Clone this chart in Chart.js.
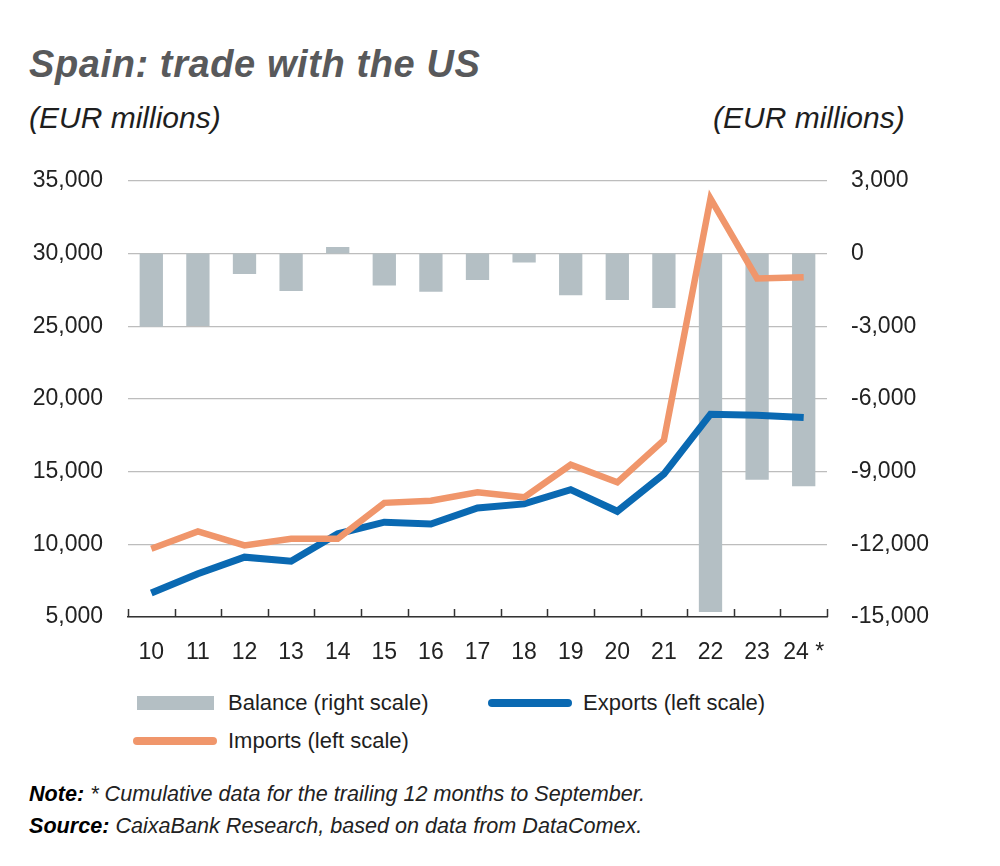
<!DOCTYPE html>
<html>
<head>
<meta charset="utf-8">
<script src="https://cdn.jsdelivr.net/npm/chart.js@4.4.1/dist/chart.umd.min.js"></script>
<style>
  html, body { margin: 0; padding: 0; background: #fff; }
  body { width: 1000px; height: 866px; position: relative; overflow: hidden;
         font-family: 'Liberation Sans', Arial, sans-serif; color: #222; }
  #title { position: absolute; left: 29px; top: 43px; font-size: 38px; font-weight: bold;
           font-style: italic; color: #58595b; letter-spacing: 0.6px; white-space: nowrap; }
  .unit { position: absolute; top: 101px; font-size: 30px; font-style: italic; color: #1e1e1e; white-space: nowrap; }
  #unitL { left: 29px; }
  #unitR { left: 713px; }
  #chartBox { position: absolute; left: 0; top: 142px; width: 1000px; height: 538px; }
  #legend { position: absolute; left: 133px; top: 684px; display: grid;
            grid-template-columns: 355px 300px; grid-auto-rows: 38px; font-size: 22px; color: #1e1e1e; }
  .item { display: flex; align-items: center; white-space: nowrap; }
  .sw { width: 84px; height: 14px; margin-right: 11px; position: relative; }
  .sw.bar::after { content: ''; position: absolute; left: 4px; right: 3px; top: 0; bottom: 0; background: var(--c); }
  .sw.line::after { content: ''; position: absolute; left: 0; right: 0; top: 3px; height: 8px; border-radius: 4px; background: var(--c); }
  .foot { position: absolute; left: 29px; font-size: 21.6px; font-style: italic; color: #222; white-space: nowrap; }
  .foot b { color: #000; }
  #note { top: 781px; }
  #source { top: 813px; }
</style>
</head>
<body>
<div id="title">Spain: trade with the US</div>
<div class="unit" id="unitL">(EUR millions)</div>
<div class="unit" id="unitR">(EUR millions)</div>
<div id="chartBox"><canvas id="tradeChart"></canvas></div>
<div id="legend"></div>
<div class="foot" id="note"><b>Note:</b> * Cumulative data for the trailing 12 months to September.</div>
<div class="foot" id="source"><b>Source:</b> CaixaBank Research, based on data from DataComex.</div>
<script>
// years (20xx), last one is trailing 12 months to September
const years = ['10', '11', '12', '13', '14', '15', '16', '17', '18', '19', '20', '21', '22', '23', '24 *'];
// EUR millions
const balance = [-3020, -2990, -850, -1550, 270, -1320, -1580, -1090, -370, -1720, -1920, -2250, -14790, -9340, -9600];
const exportsUS = [6650, 7980, 9115, 8840, 10720, 11520, 11400, 12500, 12780, 13760, 12270, 14830, 18950, 18880, 18720];
const importsUS = [9690, 10880, 9920, 10380, 10380, 12850, 13000, 13570, 13230, 15470, 14260, 17170, 33770, 28280, 28370];
// axis ranges
const leftMin = 5000, leftMax = 35000, leftStep = 5000;
const rightMin = -15000, rightMax = 3000, rightStep = 3000;

const fmt = v => Number(v).toLocaleString('en-US');

// short category ticks pointing up from the x axis
const innerTicks = {
    id: 'innerTicks',
    afterDatasetsDraw(chart) {
        const { ctx, chartArea } = chart;
        const n = chart.data.labels.length;
        const w = (chartArea.right - chartArea.left) / n;
        ctx.save();
        ctx.strokeStyle = '#333';
        ctx.lineWidth = 1.5;
        ctx.beginPath();
        for (let i = 0; i <= n; i++) {
            const x = Math.round(chartArea.left + i * w) + 0.5;
            ctx.moveTo(x, chartArea.bottom - 8);
            ctx.lineTo(x, chartArea.bottom);
        }
        ctx.stroke();
        ctx.restore();
    }
};

const chart = new Chart(document.getElementById('tradeChart'), {
    data: {
        labels: years,
        datasets: [
            {
                type: 'bar',
                label: 'Balance (right scale)',
                data: balance,
                yAxisID: 'yRight',
                backgroundColor: '#b4bfc4',
                barPercentage: 0.5,
                categoryPercentage: 1.0,
                order: 3
            },
            {
                type: 'line',
                label: 'Exports (left scale)',
                data: exportsUS,
                yAxisID: 'yLeft',
                borderColor: '#0a69b2',
                backgroundColor: '#0a69b2',
                borderWidth: 7,
                pointRadius: 0,
                tension: 0,
                order: 2
            },
            {
                type: 'line',
                label: 'Imports (left scale)',
                data: importsUS,
                yAxisID: 'yLeft',
                borderColor: '#f0966b',
                backgroundColor: '#f0966b',
                borderWidth: 6.5,
                pointRadius: 0,
                tension: 0,
                order: 1
            }
        ]
    },
    options: {
        responsive: true,
        maintainAspectRatio: false,
        animation: false,
        layout: { padding: { top: 1, left: 0, right: 0, bottom: 0 } },
        plugins: {
            legend: { display: false },
            tooltip: { enabled: false }
        },
        scales: {
            x: {
                grid: { display: false },
                border: { display: true, color: '#333', width: 1.5 },
                ticks: {
                    color: '#222',
                    font: { family: 'Liberation Sans', size: 23 },
                    padding: 14,
                    maxRotation: 0,
                    autoSkip: false
                },
                afterFit(scale) { scale.height = 63; }
            },
            yLeft: {
                position: 'left',
                min: leftMin,
                max: leftMax,
                ticks: {
                    stepSize: leftStep,
                    color: '#222',
                    font: { family: 'Liberation Sans', size: 23 },
                    padding: 25,
                    callback: fmt
                },
                grid: { color: '#bdbdbd', lineWidth: 1.3, drawTicks: false },
                border: { display: false },
                afterFit(scale) { scale.width = 128; }
            },
            yRight: {
                position: 'right',
                min: rightMin,
                max: rightMax,
                ticks: {
                    stepSize: rightStep,
                    color: '#222',
                    font: { family: 'Liberation Sans', size: 23 },
                    padding: 24,
                    callback: fmt
                },
                grid: { display: false, drawTicks: false },
                border: { display: false },
                afterFit(scale) { scale.width = 173; }
            }
        }
    },
    plugins: [innerTicks]
});

// legend built from the chart's datasets: Balance, Exports / Imports
const legend = document.getElementById('legend');
chart.data.datasets.forEach(ds => {
    const item = document.createElement('div');
    item.className = 'item';
    const sw = document.createElement('span');
    sw.className = 'sw ' + (ds.type === 'bar' ? 'bar' : 'line');
    sw.style.setProperty('--c', ds.type === 'bar' ? ds.backgroundColor : ds.borderColor);
    const txt = document.createElement('span');
    txt.textContent = ds.label;
    item.appendChild(sw);
    item.appendChild(txt);
    legend.appendChild(item);
});
</script>
</body>
</html>
